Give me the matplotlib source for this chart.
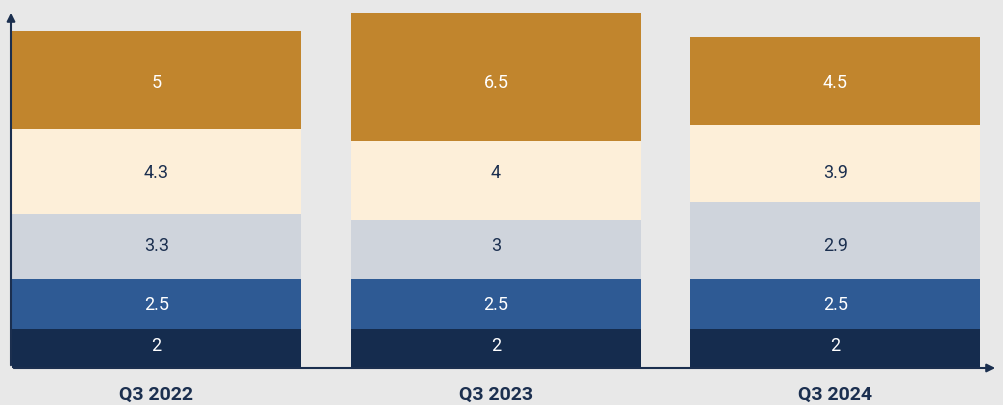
import numpy as np
import matplotlib
matplotlib.use('Agg')
import matplotlib.pyplot as plt

plt.rcParams['font.family'] = ['Roboto', 'DejaVu Sans']

quarters = ['Q3 2022', 'Q3 2023', 'Q3 2024']
# segment heights as drawn (bottom to top) and the labels printed on them
heights = [
    [2.0, 2.0, 2.0],
    [2.5, 2.5, 2.5],
    [3.3, 3.0, 3.9],
    [4.3, 4.0, 3.9],
    [5.0, 6.5, 4.5],
]
labels = [
    ['2', '2', '2'],
    ['2.5', '2.5', '2.5'],
    ['3.3', '3', '2.9'],
    ['4.3', '4', '3.9'],
    ['5', '6.5', '4.5'],
]
colors = ['#152c4e', '#2e5a94', '#cfd4dc', '#fdefd9', '#c1852d']
text_colors = ['white', 'white', '#1b2f4f', '#1b2f4f', 'white']
# labels sit on a common row for every bar
label_rows = [1.12, 3.22, 6.2, 9.91, 14.43]

bg = '#e8e8e8'
navy = '#1b2f4f'

fig = plt.figure(figsize=(10.04, 4.05), dpi=100)
fig.patch.set_facecolor(bg)
ax = fig.add_axes([11/1004, 37/405, 987/1004, 358/405])
ax.set_facecolor(bg)

x = np.arange(len(quarters))
width = 290/339.5
bottom = np.zeros(len(quarters))
for h, lab, c, tc, ry in zip(heights, labels, colors, text_colors, label_rows):
    h = np.array(h)
    ax.bar(x, h, width=width, bottom=bottom, color=c, edgecolor='none', zorder=2)
    for xi, l in zip(x, lab):
        ax.text(xi, ry, l, ha='center', va='center', color=tc, fontsize=13, zorder=3)
    bottom = bottom + h

ax.set_xlim(-145.5/339.5, 2 + 162.5/339.5)
ax.set_ylim(0, 358/19.72)

for s in ax.spines.values():
    s.set_visible(False)
ax.set_xticks([])
ax.set_yticks([])

# axis arrows
ax.annotate('', xy=(1, 0), xytext=(0, 0), xycoords='axes fraction',
            arrowprops=dict(arrowstyle='-|>', color=navy, lw=1.5, mutation_scale=12), zorder=4)
ax.annotate('', xy=(0, 1), xytext=(0, 0), xycoords='axes fraction',
            arrowprops=dict(arrowstyle='-|>', color=navy, lw=1.5, mutation_scale=12), zorder=4)

for xi, q in zip(x, quarters):
    ax.text(xi, -27/19.72, q, ha='center', va='center', color=navy,
            fontsize=14, fontweight='bold')

fig.savefig('out.png', dpi=100, facecolor=bg)
